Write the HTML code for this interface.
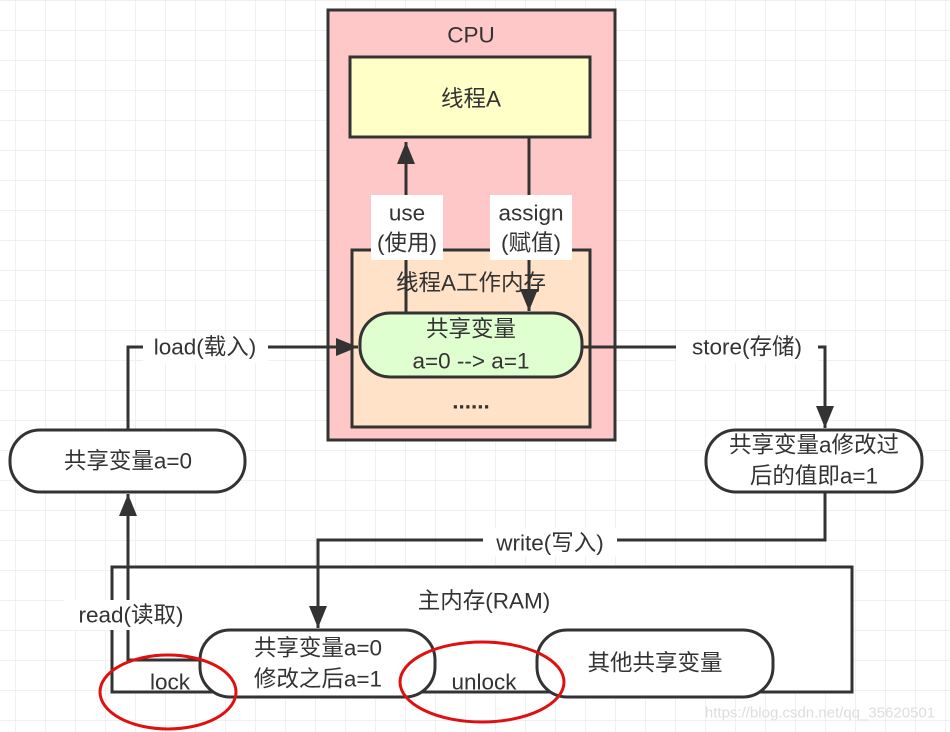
<!DOCTYPE html>
<html><head><meta charset="utf-8"><style>
html,body{margin:0;padding:0;background:#fff}
svg{display:block}
text{font-family:"Liberation Sans","Noto Sans CJK SC",sans-serif;fill:#333;font-size:22.5px;text-anchor:middle;dominant-baseline:central}
</style></head><body>
<svg width="950" height="732" viewBox="0 0 950 732" xmlns="http://www.w3.org/2000/svg">
<defs>
<pattern id="g" x="15" y="0" width="30" height="30" patternUnits="userSpaceOnUse">
<path d="M0 0V30M0 0H30" stroke="#ebebeb" stroke-width="1.5" fill="none"/>
</pattern>
<marker id="b" markerWidth="24" markerHeight="24" refX="22" refY="12" orient="auto" markerUnits="userSpaceOnUse" viewBox="0 0 24 24">
<path d="M0 3L22 12L0 21z" fill="#333"/></marker>
</defs>
<rect width="950" height="732" fill="url(#g)"/>
<g stroke="#333" stroke-width="3" fill="none">
<rect x="328" y="10" width="287" height="430" fill="#ffc8c8"/>
<rect x="350" y="57" width="240" height="80" fill="#ffffc8"/>
<rect x="352" y="250" width="238" height="177" fill="#ffe2c8"/>
<rect x="360" y="313" width="222" height="64" rx="30" fill="#e0ffd0"/>
<rect x="10" y="430" width="235" height="62" rx="30" fill="#fff"/>
<rect x="706" y="430" width="216" height="62" rx="30" fill="#fff"/>
<rect x="112" y="567" width="740" height="125" fill="#fff"/>
<rect x="200" y="630" width="235" height="67" rx="30" fill="#fff"/>
<rect x="537" y="630" width="236" height="67" rx="30" fill="#fff"/>
<path d="M406 313V142" marker-end="url(#b)"/>
<path d="M529 137V311" marker-end="url(#b)"/>
<path d="M128 430V347H358" marker-end="url(#b)"/>
<path d="M582 347H825V428" marker-end="url(#b)"/>
<path d="M825 492V540H318V628" marker-end="url(#b)"/>
<path d="M200 660H128V494" marker-end="url(#b)"/>
</g>
<g fill="#fff">
<rect x="371" y="195" width="72" height="65"/>
<rect x="490" y="195" width="82" height="65"/>
<rect x="143" y="333" width="125" height="30"/>
<rect x="676" y="333" width="142" height="30"/>
<rect x="483" y="528" width="134" height="28"/>
<rect x="64" y="600" width="134" height="30"/>
</g>
<text x="471" y="35">CPU</text>
<text x="471" y="99">线程A</text>
<text x="407" y="213">use</text>
<text x="407" y="243">(使用)</text>
<text x="531" y="213">assign</text>
<text x="531" y="243">(赋值)</text>
<text x="471" y="283">线程A工作内存</text>
<text x="471" y="329">共享变量</text>
<text x="471" y="361">a=0 --&gt; a=1</text>
<text x="471" y="401" style="font-weight:bold">......</text>
<text x="205" y="347">load(载入)</text>
<text x="747" y="347">store(存储)</text>
<text x="128" y="461">共享变量a=0</text>
<text x="814" y="445">共享变量a修改过</text>
<text x="814" y="476">后的值即a=1</text>
<text x="550" y="543">write(写入)</text>
<text x="484" y="601">主内存(RAM)</text>
<text x="131" y="615">read(读取)</text>
<text x="318" y="648">共享变量a=0</text>
<text x="318" y="679">修改之后a=1</text>
<text x="655" y="663">其他共享变量</text>
<text x="170" y="682">lock</text>
<text x="484" y="682">unlock</text>
<text x="820" y="713" style="font-size:15px;fill:#ddd">https://blog.csdn.net/qq_35620501</text>
<g stroke="#e01010" stroke-width="3" fill="none">
<ellipse cx="168" cy="692" rx="68" ry="37"/>
<ellipse cx="482" cy="682" rx="82" ry="40"/>
</g>
</svg>
</body></html>
